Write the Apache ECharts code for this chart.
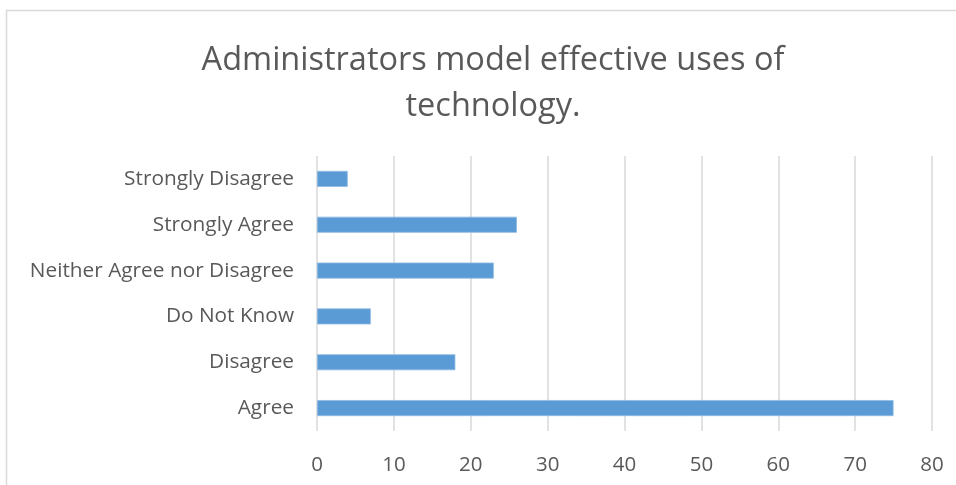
<!DOCTYPE html>
<html>
<head>
<meta charset="utf-8">
<script src="https://cdn.jsdelivr.net/npm/echarts@6/dist/echarts.min.js"></script>
<style>
  html, body { margin: 0; padding: 0; background: #fff; }
  #chart { width: 956px; height: 485px; }
</style>
</head>
<body>
<div id="chart"></div>
<script>
// Survey responses, listed bottom to top as they appear on the axis
const categories = ['Agree', 'Disagree', 'Do Not Know', 'Neither Agree nor Disagree', 'Strongly Agree', 'Strongly Disagree'];
const counts = [75, 18, 7, 23, 26, 4];
const xTicks = { min: 0, max: 80, interval: 10 };
const titleText = 'Administrators model effective uses of\ntechnology.';

const FONT = '"Open Sans", sans-serif';
const TEXT = '#595959';

const chart = echarts.init(document.getElementById('chart'), null, { renderer: 'canvas' });
chart.setOption({
  backgroundColor: '#ffffff',
  animation: false,
  graphic: [{
    type: 'rect',
    shape: { x: 6.5, y: 10.5, width: 980, height: 500 },
    style: { fill: 'none', stroke: '#d9d9d9', lineWidth: 1.5 },
    silent: true
  }],
  title: {
    text: titleText,
    left: 488,
    top: 33,
    textAlign: 'center',
    textStyle: {
      fontFamily: FONT,
      fontSize: 32.5,
      fontWeight: 'normal',
      color: TEXT,
      lineHeight: 46
    }
  },
  grid: { left: 317, right: 24, top: 156, bottom: 54, containLabel: false },
  xAxis: {
    type: 'value',
    min: xTicks.min,
    max: xTicks.max,
    interval: xTicks.interval,
    axisLine: { show: false },
    axisTick: { show: false },
    axisLabel: { color: TEXT, fontFamily: FONT, fontSize: 20.5, margin: 24 },
    splitLine: { lineStyle: { color: '#d9d9d9', width: 1.5 } }
  },
  yAxis: {
    type: 'category',
    data: categories,
    axisLine: { show: false },
    axisTick: { show: false },
    axisLabel: { color: TEXT, fontFamily: FONT, fontSize: 20.8, margin: 23 }
  },
  series: [{
    type: 'bar',
    data: counts,
    barWidth: '35%',
    itemStyle: { color: '#5b9bd5', borderColor: '#8fbbe3', borderWidth: 0.8 }
  }]
});
</script>
</body>
</html>
